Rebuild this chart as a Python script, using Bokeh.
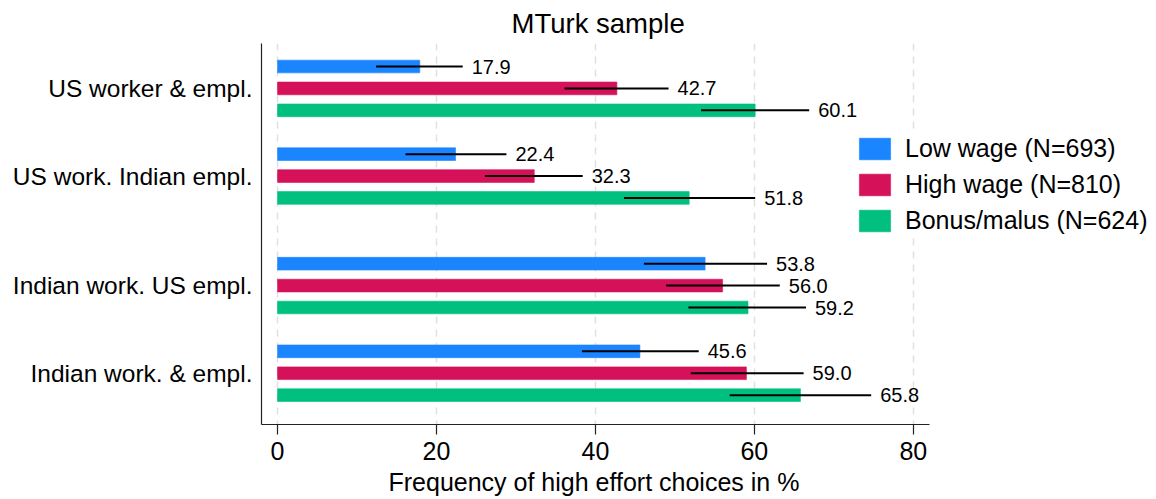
from bokeh.plotting import figure
from bokeh.models import (ColumnDataSource, Range1d, FixedTicker, Legend, LegendItem, Title)
from bokeh.core.properties import value
from bokeh.embed import file_html
from bokeh.resources import INLINE

groups = ["US worker & empl.", "US work. Indian empl.", "Indian work. US empl.", "Indian work. & empl."]
series = ["Low wage (N=693)", "High wage (N=810)", "Bonus/malus (N=624)"]
colors = ["#1A85FF", "#D41159", "#00BF7F"]

low_mean = [17.9, 22.4, 53.8, 45.6]
low_lo = [12.4, 16.1, 46.1, 38.3]
low_hi = [23.3, 28.8, 61.6, 53.0]

high_mean = [42.7, 32.3, 56.0, 59.0]
high_lo = [36.1, 26.1, 48.9, 52.0]
high_hi = [49.2, 38.4, 63.2, 66.2]

bonus_mean = [60.1, 51.8, 59.2, 65.8]
bonus_lo = [53.3, 43.6, 51.7, 56.9]
bonus_hi = [66.9, 60.1, 66.5, 74.7]

xticks = [0, 20, 40, 60, 80]

FONT = "Liberation Sans"

# group centres: pairs of groups separated by an extra gap
gpos = [i * 4 + (1 if i >= 2 else 0) for i in range(len(groups))]

p = figure(width=1150, height=499, output_backend="svg", toolbar_location=None,
           x_range=Range1d(-2.02, 109.6), y_range=Range1d(15.34, -2.05),
           min_border_left=261, min_border_right=2, min_border_top=42, min_border_bottom=74)
p.outline_line_color = None
p.background_fill_color = "white"

means = [low_mean, high_mean, bonus_mean]
los = [low_lo, high_lo, bonus_lo]
his = [low_hi, high_hi, bonus_hi]
items = []
for k in range(3):
    ys = [g + (k - 1) for g in gpos]
    src = ColumnDataSource(dict(y=ys, m=means[k], lo=los[k], hi=his[k],
                                lab=["%.1f" % v for v in means[k]]))
    r = p.hbar(y="y", left=0, right="m", height=0.58, source=src,
               fill_color=colors[k], line_color=colors[k], line_alpha=0.6, line_width=1)
    items.append(LegendItem(label=series[k], renderers=[r]))
    p.segment(x0="lo", x1="hi", y0="y", y1="y", source=src, line_color="black", line_width=2)
    p.text(x="hi", y="y", text="lab", source=src, x_offset=9, text_baseline="middle",
           text_align="left", text_font=value(FONT), text_font_size="20px", text_color="black")

# x axis
xa = p.xaxis[0]
xa.ticker = FixedTicker(ticks=xticks)
xa.bounds = (-2.02, 82.05)
xa.axis_line_color = "#222222"
xa.axis_line_width = 1.2
xa.major_tick_out = 10
xa.major_tick_in = 0
xa.major_tick_line_color = "#222222"
xa.major_tick_line_width = 1.2
xa.minor_tick_line_color = None
xa.major_label_text_font = FONT
xa.major_label_text_font_size = "25px"
xa.major_label_text_color = "black"
xa.major_label_standoff = 7

# y axis
ya = p.yaxis[0]
ya.ticker = FixedTicker(ticks=gpos)
ya.major_label_overrides = {g: lab for g, lab in zip(gpos, groups)}
ya.axis_line_color = "#222222"
ya.axis_line_width = 1.2
ya.major_tick_out = 0
ya.major_tick_in = 0
ya.minor_tick_line_color = None
ya.major_label_text_font = FONT
ya.major_label_text_font_size = "24.5px"
ya.major_label_text_color = "black"
ya.major_label_standoff = 9

p.xgrid.grid_line_color = "#e0e0e0"
p.xgrid.grid_line_width = 1.5
p.xgrid.grid_line_dash = "7 6"
p.ygrid.grid_line_color = None

legend = Legend(items=items, location=(594, 189), orientation="vertical",
                background_fill_color="white", background_fill_alpha=1.0,
                border_line_color=None, glyph_width=39, glyph_height=27,
                label_text_font=FONT, label_text_font_size="25px",
                label_text_color="black", spacing=7, padding=6, margin=0,
                label_standoff=11)
p.add_layout(legend, "center")

t = Title(text="MTurk sample", text_font=FONT, text_font_size="27.5px",
          text_font_style="normal", text_color="black", align="left", offset=246,
          standoff=2, padding=4)
p.add_layout(t, "above")

xl = Title(text="Frequency of high effort choices in %", text_font=FONT, text_font_size="25px",
           text_font_style="normal", text_color="black", align="left", offset=127, standoff=7)
p.add_layout(xl, "below")

open("out.html", "w").write(file_html(p, INLINE))
